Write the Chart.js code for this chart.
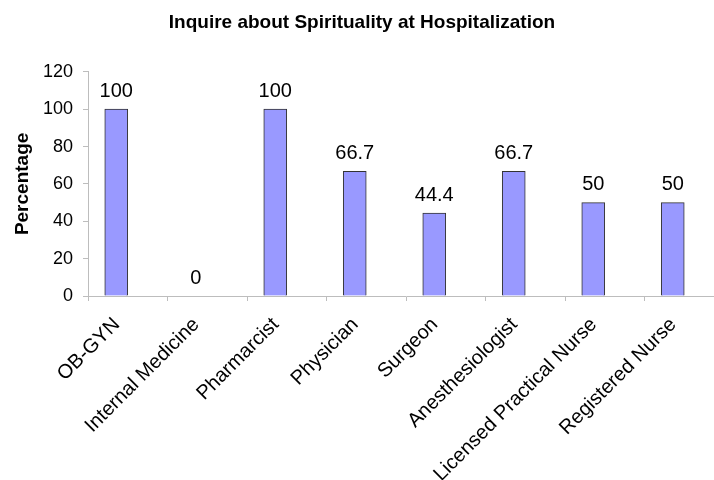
<!DOCTYPE html>
<html>
<head>
<meta charset="utf-8">
<script src="https://cdn.jsdelivr.net/npm/chart.js@4"></script>
<style>
  body { margin: 0; overflow: hidden; background: #fff; }
  #wrap { width: 740px; height: 480px; }
</style>
</head>
<body>
<div id="wrap"><canvas id="spiritChart"></canvas></div>
<script>
let categories = ['OB-GYN', 'Internal Medicine', 'Pharmarcist', 'Physician', 'Surgeon', 'Anesthesiologist', 'Licensed Practical Nurse', 'Registered Nurse']
let percentages = [100, 0, 100, 66.7, 44.4, 66.7, 50, 50]
let valueLabels = ['100', '0', '100', '66.7', '44.4', '66.7', '50', '50']
let yTicks = [0, 20, 40, 60, 80, 100, 120]

let graph = document.getElementById('spiritChart')
let font = "'Liberation Sans', Arial, sans-serif"

/* numbers above each bar */
let barLabels = {
  id: 'barLabels',
  afterDatasetsDraw(chart) {
    let ctx = chart.ctx
    let meta = chart.getDatasetMeta(0)
    ctx.save()
    ctx.font = '20px ' + font
    ctx.fillStyle = '#000'
    ctx.textAlign = 'center'
    ctx.textBaseline = 'middle'
    meta.data.forEach((bar, i) => {
      ctx.fillText(valueLabels[i], bar.x, bar.y - 18)
    })
    ctx.restore()
  }
}

let chart = new Chart(graph, {
  type: 'bar',
  data: {
    labels: categories,
    datasets: [{
      data: percentages,
      backgroundColor: '#9999FF',
      borderColor: '#333333',
      borderWidth: 1,
      barThickness: 23
    }, {
      // empty slot so the bar sits left of the category centre, like the original
      data: categories.map(() => null),
      barThickness: 23
    }]
  },
  options: {
    responsive: true,
    maintainAspectRatio: false,
    animation: false,
    devicePixelRatio: 1,
    categoryPercentage: 0.553,
    layout: { padding: { top: 0, right: 16, left: 0, bottom: 0 } },
    plugins: {
      legend: { display: false },
      tooltip: { enabled: false },
      title: {
        display: true,
        text: 'Inquire about Spirituality at Hospitalization',
        color: '#000',
        font: { family: font, size: 19, weight: 'bold' },
        padding: { top: 11, bottom: 38 }
      }
    },
    scales: {
      x: {
        afterFit: (scale) => { scale.height = 184 },
        grid: { offset: true, drawOnChartArea: false, color: '#bdbdbd', tickLength: 5 },
        border: { color: '#bdbdbd' },
        ticks: {
          color: '#000',
          font: { family: font, size: 20 },
          maxRotation: 45,
          minRotation: 45,
          autoSkip: false,
          padding: 12,
          labelOffset: -11
        }
      },
      y: {
        min: 0,
        max: 120,
        afterFit: (scale) => { scale.width = 88 },
        afterBuildTicks: (axis) => { axis.ticks = yTicks.map(v => ({ value: v })) },
        grid: { drawOnChartArea: false, color: '#bdbdbd', tickLength: 5 },
        border: { color: '#bdbdbd' },
        ticks: { color: '#000', font: { family: font, size: 18 }, padding: 10 },
        title: {
          display: true,
          text: 'Percentage',
          color: '#000',
          font: { family: font, size: 19, weight: 'bold' },
          padding: { top: 11, bottom: 0 }
        }
      }
    }
  },
  plugins: [barLabels]
})
</script>
</body>
</html>
